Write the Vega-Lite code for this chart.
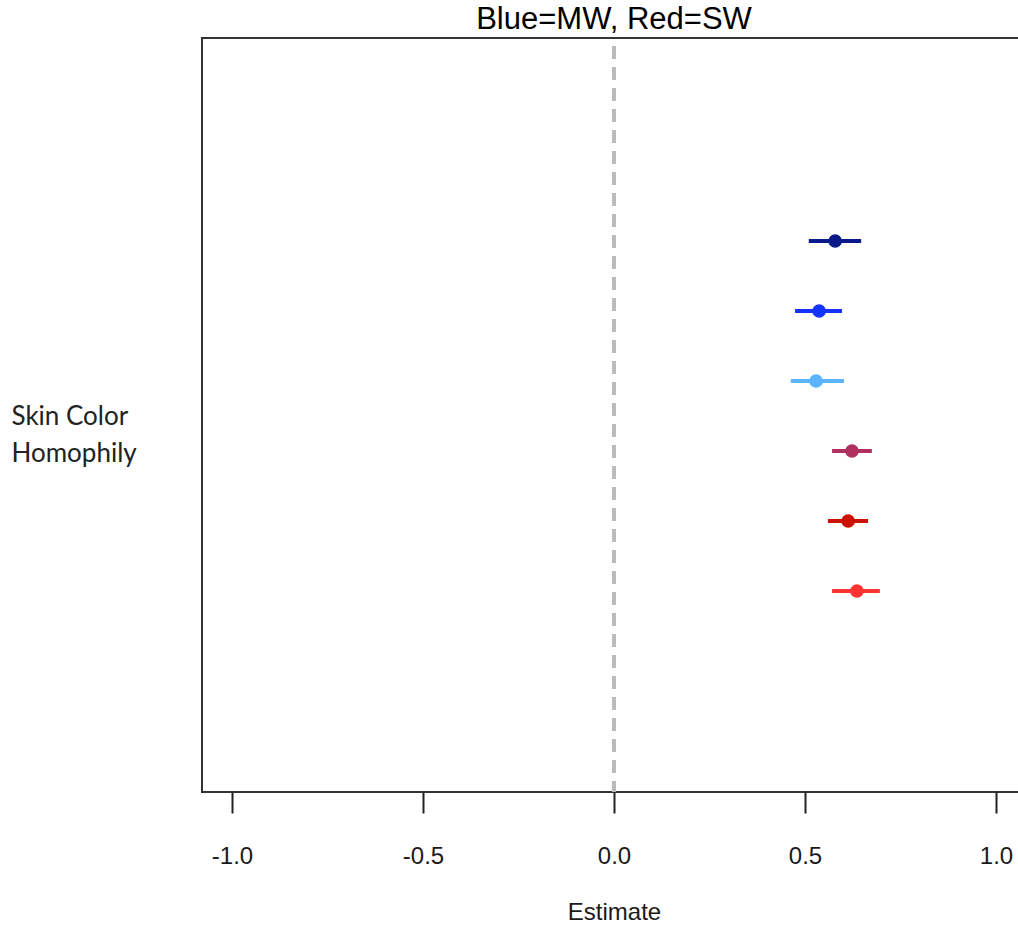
{
  "$schema": "https://vega.github.io/schema/vega-lite/v6.json",
  "autosize": {"type": "none"},
  "padding": {"left": 202, "top": 38, "right": 0, "bottom": 134},
  "width": 818,
  "height": 754,
  "background": "white",
  "config": {
    "view": {"stroke": "#333333", "strokeWidth": 2},
    "font": "Liberation Sans"
  },
  "title": {
    "text": "Blue=MW, Red=SW",
    "font": "Liberation Sans",
    "fontSize": 31,
    "fontWeight": "normal",
    "color": "#000000",
    "anchor": "middle",
    "frame": "group",
    "baseline": "alphabetic",
    "offset": -23,
    "dx": 3
  },
  "data": {
    "values": [
      {"row": 1, "group": "MW 1", "est": 0.579, "lo": 0.510, "hi": 0.647},
      {"row": 2, "group": "MW 2", "est": 0.537, "lo": 0.474, "hi": 0.597},
      {"row": 3, "group": "MW 3", "est": 0.529, "lo": 0.463, "hi": 0.602},
      {"row": 4, "group": "SW 1", "est": 0.623, "lo": 0.571, "hi": 0.675},
      {"row": 5, "group": "SW 2", "est": 0.613, "lo": 0.560, "hi": 0.665},
      {"row": 6, "group": "SW 3", "est": 0.636, "lo": 0.571, "hi": 0.696}
    ]
  },
  "encoding": {
    "y": {
      "field": "row",
      "type": "quantitative",
      "scale": {"domain": [-1.9, 8.871], "reverse": true, "nice": false, "zero": false},
      "axis": {
        "title": ["Skin Color", "Homophily"],
        "titleFont": "Lato",
        "titleFontSize": 26,
        "titleFontWeight": "normal",
        "titleColor": "#222222",
        "titleAngle": 0,
        "titleAlign": "left",
        "titleBaseline": "middle",
        "titleLineHeight": 37,
        "titleX": -191,
        "titleY": 378,
        "labels": false,
        "ticks": false,
        "domain": false,
        "grid": false
      }
    }
  },
  "layer": [
    {
      "mark": {"type": "rule", "color": "#bbbbbb", "strokeWidth": 3, "strokeDash": [13, 8], "strokeDashOffset": 13},
      "encoding": {
        "x": {"datum": 0, "type": "quantitative"},
        "y": null
      }
    },
    {
      "mark": {"type": "rule", "strokeWidth": 4},
      "encoding": {
        "x": {
          "field": "lo",
          "type": "quantitative",
          "scale": {"domain": [-1.0785, 1.0629], "nice": false, "zero": false},
          "axis": {
            "values": [-1, -0.5, 0, 0.5, 1],
            "labelExpr": "datum.value < 0 ? '-' + format(-datum.value, '.1f') : format(datum.value, '.1f')",
            "grid": false,
            "domain": false,
            "tickSize": 21,
            "tickWidth": 2,
            "tickColor": "#222222",
            "labelFont": "Liberation Sans",
            "labelFontSize": 24,
            "labelColor": "#1a1a1a",
            "labelPadding": 31,
            "labelFlush": false,
            "labelOverlap": false,
            "title": "Estimate",
            "titleFont": "Liberation Sans",
            "titleFontSize": 24,
            "titleFontWeight": "normal",
            "titleColor": "#1a1a1a",
            "titleBaseline": "alphabetic",
            "titleX": 412,
            "titleY": 127
          }
        },
        "x2": {"field": "hi"},
        "color": {
          "field": "group",
          "type": "nominal",
          "scale": {
            "domain": ["MW 1", "MW 2", "MW 3", "SW 1", "SW 2", "SW 3"],
            "range": ["#0a1a8a", "#1433ff", "#5ab4ff", "#b03060", "#cc1100", "#ff3333"]
          },
          "legend": null
        }
      }
    },
    {
      "mark": {"type": "circle", "size": 185, "opacity": 1},
      "encoding": {
        "x": {"field": "est", "type": "quantitative"},
        "color": {"field": "group", "type": "nominal", "legend": null}
      }
    }
  ]
}
